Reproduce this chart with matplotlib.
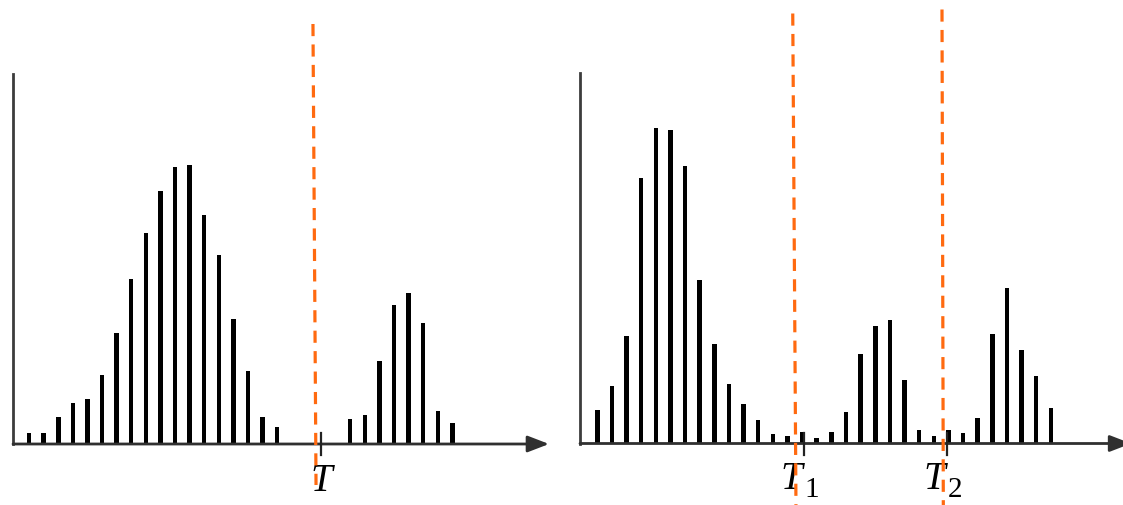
import matplotlib
matplotlib.use("Agg")
import matplotlib.pyplot as plt

# histogram counts (bin index -> count)
left_bins = list(range(0, 18)) + list(range(22, 30))
left_counts = [11, 11, 27, 41, 45, 69, 111, 165, 211, 253, 277, 279, 229, 189,
               125, 73, 27, 17,
               25, 29, 83, 139, 151, 121, 33, 21]

right_bins = list(range(0, 32))
right_counts = [34, 58, 108, 266, 316, 314, 278, 164, 100, 60, 40, 24, 10, 8,
                12, 6, 12, 32, 90, 118, 124, 64, 14, 8, 14, 11, 26, 110, 156,
                94, 68, 36]

# threshold tick positions and labels
left_ticks = [20.0]
left_labels = [("T", "")]
right_ticks = [14.1, 23.9]
right_labels = [("T", "1"), ("T", "2")]

# dashed threshold markers (x at top, x at bottom, y top, y bottom)
left_dashes = [(19.45, 19.66, 420, -41)]
right_dashes = [(13.36, 13.58, 430, -62), (23.56, 23.65, 434, -62)]

W, H = 1123, 506
AXIS_COLOR = "#3c3c3c"
ORANGE = "#ff6a10"


def px_axes(fig, x0, x1, y_top, y_base):
    return fig.add_axes([x0 / W, (H - y_base) / H, (x1 - x0) / W, (y_base - y_top) / H])


def draw_panel(ax, bins, counts, ticks, labels, dashes, xlim, ylim, tip):
    ax.set_xlim(*xlim)
    ax.set_ylim(*ylim)
    ax.bar(bins, counts, width=0.31, color="black", zorder=2)
    for s in ("top", "right", "bottom"):
        ax.spines[s].set_visible(False)
    ax.spines["left"].set_color(AXIS_COLOR)
    ax.spines["left"].set_linewidth(2.0)
    ax.set_xticks([])
    ax.set_yticks([])
    ax.patch.set_alpha(0)
    # x axis with arrow head
    ax.annotate("", xy=(tip, 0), xytext=(0, 0), xycoords="axes fraction",
                annotation_clip=False,
                arrowprops=dict(arrowstyle="-|>,head_length=1.3,head_width=0.5",
                                color="#303030", lw=2.0, shrinkA=0, shrinkB=0))
    for t, (main, sub) in zip(ticks, labels):
        ax.plot([t, t], [-11, 11], color="#222222", lw=1.6, clip_on=False, zorder=3)
        if sub:
            ax.text(t - 0.1, -35, main, ha="right", va="center", fontsize=28,
                    family="Liberation Serif", style="italic")
            ax.text(t + 0.05, -46, sub, ha="left", va="center", fontsize=21,
                    family="Liberation Serif")
        else:
            ax.text(t, -37, main, ha="center", va="center", fontsize=28,
                    family="Liberation Serif", style="italic")
    for xt, xb, yt, yb in dashes:
        ax.plot([xt, xb], [yt, yb], color=ORANGE, lw=2.3, dashes=(3.8, 2.6),
                clip_on=False, zorder=5)


fig = plt.figure(figsize=(W / 100, H / 100), dpi=100)

ax1 = px_axes(fig, 13, 549, 75, 445)
draw_panel(ax1, left_bins, left_counts, left_ticks, left_labels, left_dashes,
           (-1.1, 35.62), (0, 370), 1.0)

ax2 = px_axes(fig, 580, 1123, 74, 444.5)
draw_panel(ax2, right_bins, right_counts, right_ticks, right_labels, right_dashes,
           (-1.18, 35.93), (0, 370.5), 1.015)

fig.savefig("out.png", dpi=100)
